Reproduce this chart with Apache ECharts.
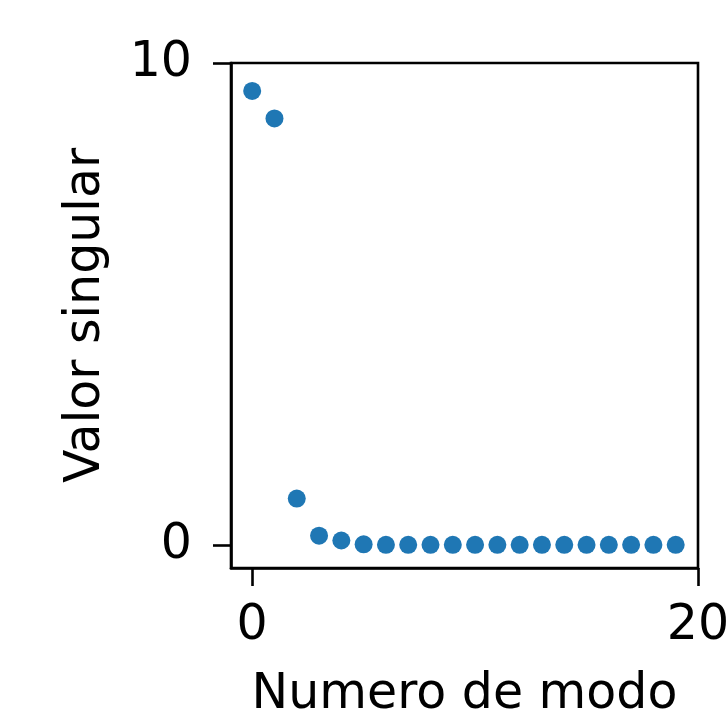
<!DOCTYPE html>
<html>
<head>
<meta charset="utf-8">
<script src="https://cdn.jsdelivr.net/npm/echarts@6/dist/echarts.min.js"></script>
<style>
  html, body { margin: 0; padding: 0; background: #ffffff; }
  #chart { width: 728px; height: 719px; }
</style>
</head>
<body>
<div id="chart"></div>
<script>
// Mode index and the corresponding singular value
const modes = [0, 1, 2, 3, 4, 5, 6, 7, 8, 9, 10, 11, 12, 13, 14, 15, 16, 17, 18, 19];
const singularValues = [9.42, 8.85, 0.97, 0.20, 0.10, 0.02, 0.01, 0.01, 0.01, 0.01,
                        0.01, 0.01, 0.01, 0.01, 0.01, 0.01, 0.01, 0.01, 0.01, 0.01];
const xTicks = [0, 20];
const yTicks = [0, 10];

const points = modes.map((m, i) => [m, singularValues[i]]);

const chart = echarts.init(document.getElementById('chart'), null, { renderer: 'canvas' });
const font = 'DejaVu Sans';
const axisStyle = { color: '#000000', width: 2.6 };

chart.setOption({
  animation: false,
  backgroundColor: '#ffffff',
  grid: {
    left: 231, top: 63, right: 30, bottom: 151,
    containLabel: false,
    outerBoundsMode: 'none',
    show: true, borderColor: '#000000', borderWidth: 2.6, backgroundColor: 'transparent'
  },
  xAxis: {
    type: 'value',
    min: -0.95, max: 20,
    name: 'Numero de modo',
    nameLocation: 'middle',
    nameGap: 103,
    nameTextStyle: { fontFamily: font, fontSize: 49, color: '#000000' },
    axisLine: { show: true, onZero: false, lineStyle: axisStyle },
    axisTick: { show: true, length: 18, lineStyle: axisStyle, customValues: xTicks },
    axisLabel: { fontFamily: font, fontSize: 49, color: '#000000', margin: 34, customValues: xTicks },
    splitLine: { show: false }
  },
  yAxis: {
    type: 'value',
    min: -0.47, max: 10,
    name: 'Valor singular',
    nameLocation: 'middle',
    nameRotate: 90,
    nameGap: 120,
    nameTextStyle: { fontFamily: font, fontSize: 49, color: '#000000' },
    axisLine: { show: true, onZero: false, lineStyle: axisStyle },
    axisTick: { show: true, length: 18, lineStyle: axisStyle, customValues: yTicks },
    axisLabel: { fontFamily: font, fontSize: 49, color: '#000000', margin: 39, customValues: yTicks },
    splitLine: { show: false }
  },
  series: [{
    type: 'scatter',
    data: points,
    symbol: 'circle',
    symbolSize: 18,
    itemStyle: { color: '#1f77b4', opacity: 1 }
  }]
});
</script>
</body>
</html>
